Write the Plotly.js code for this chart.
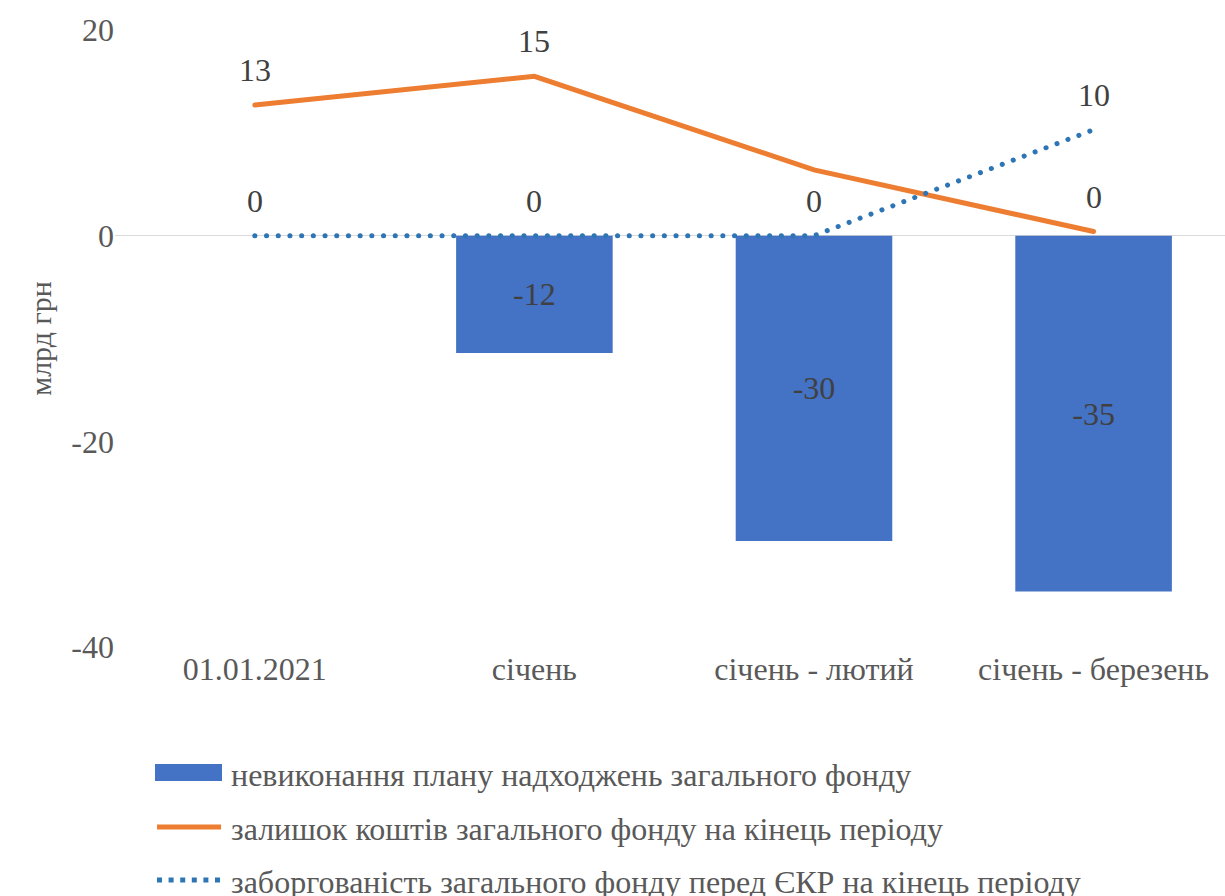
<!DOCTYPE html>
<html>
<head>
<meta charset="utf-8">
<script src="https://cdn.plot.ly/plotly-3.0.1.min.js"></script>
<style>
html, body { margin: 0; padding: 0; background: #fff; }
#chart { width: 1225px; height: 896px; }
</style>
</head>
<body>
<div id="chart"></div>
<script>
// ---- data ----
const categories = ["01.01.2021", "січень", "січень - лютий", "січень - березень"];
const shortfall = [null, -11.4, -29.7, -34.6];
const shortfallLabels = ["", "-12", "-30", "-35"];
const balance = [12.7, 15.5, 6.4, 0.4];
const balanceLabels = ["13", "15", "", "0"];
const debt = [0, 0, 0, 10.3];
const debtLabels = ["0", "0", "0", "10"];
const seriesNames = [
  "невиконання плану надходжень загального фонду",
  "залишок коштів загального фонду на кінець періоду",
  "заборгованість загального фонду перед ЄКР на кінець періоду"
];
const yTicks = [-40, -20, 0, 20];
const yTickLabels = ["-40", "-20", "0", "20"];

// ---- style ----
const FONT = "Liberation Serif";
const FS = 32;
const C_BAR = "#4472C4", C_ORANGE = "#ED7D31", C_DOT = "#2E75B6";
const TXT = "#595959", LBL = "#404040";
const M = {l: 115, r: 0, t: 30, b: 249};
const PW = 1225 - M.l - M.r, PH = 896 - M.t - M.b;
const px = x => (x - M.l) / PW;
const py = y => (896 - M.b - y) / PH;

const traces = [
  {
    type: "bar", x: categories, y: shortfall, name: seriesNames[0],
    marker: {color: C_BAR},
    text: shortfallLabels, textposition: "inside", insidetextanchor: "middle",
    textangle: 0, constraintext: "none",
    textfont: {family: FONT, size: FS, color: LBL},
    hoverinfo: "skip"
  },
  {
    type: "scatter", mode: "lines", x: categories, y: balance, name: seriesNames[1],
    line: {color: C_ORANGE, width: 5}
  },
  {
    type: "scatter", mode: "lines", x: categories, y: debt, name: seriesNames[2],
    line: {color: C_DOT, width: 5, dash: "0.1px,11.6px"}
  }
];

const annotations = [];
categories.forEach((c, i) => {
  if (balanceLabels[i]) annotations.push({x: c, y: balance[i], xref: "x", yref: "y", text: balanceLabels[i],
    showarrow: false, yshift: 35, font: {family: FONT, size: FS, color: LBL}});
  if (debtLabels[i]) annotations.push({x: c, y: debt[i], xref: "x", yref: "y", text: debtLabels[i],
    showarrow: false, yshift: 35, font: {family: FONT, size: FS, color: LBL}});
});

// custom legend
const legY = [773, 827, 880];
const shapes = [
  {type: "rect", xref: "paper", yref: "paper", x0: px(155), x1: px(222), y0: py(781), y1: py(764),
   fillcolor: C_BAR, line: {width: 0}},
  {type: "line", xref: "paper", yref: "paper", x0: px(157), x1: px(221), y0: py(legY[1]), y1: py(legY[1]),
   line: {color: C_ORANGE, width: 5}},
  {type: "line", xref: "paper", yref: "paper", x0: px(157), x1: px(222), y0: py(legY[2]), y1: py(legY[2]),
   line: {color: C_DOT, width: 5, dash: "5px,6.6px"}}
];
seriesNames.forEach((n, i) => {
  annotations.push({xref: "paper", yref: "paper", x: px(229), y: py(legY[i] + 2), xanchor: "left", yanchor: "middle",
    text: n, showarrow: false, font: {family: FONT, size: FS, color: TXT}});
});

const layout = {
  width: 1225, height: 896,
  margin: M,
  paper_bgcolor: "#fff", plot_bgcolor: "#fff",
  showlegend: false,
  bargap: 0.44,
  xaxis: {
    type: "category", range: [-0.5, 3.47], showgrid: false, zeroline: false, showline: false,
    ticks: "", tickfont: {family: FONT, size: FS, color: TXT}, fixedrange: true
  },
  yaxis: {
    range: [-40, 20], tickvals: yTicks, ticktext: yTickLabels, showgrid: false,
    zeroline: true, zerolinecolor: "#D9D9D9", zerolinewidth: 1.5,
    showline: false, ticks: "", tickfont: {family: FONT, size: FS, color: TXT},
    title: {text: "млрд грн", font: {family: FONT, size: 30, color: TXT}, standoff: 10},
    automargin: false
  },
  annotations: annotations,
  shapes: shapes
};

Plotly.newPlot("chart", traces, layout, {displayModeBar: false, staticPlot: true}).then(() => {
  document.querySelectorAll(".scatterlayer .js-line").forEach(p => p.style.strokeLinecap = "round");
});
</script>
</body>
</html>
